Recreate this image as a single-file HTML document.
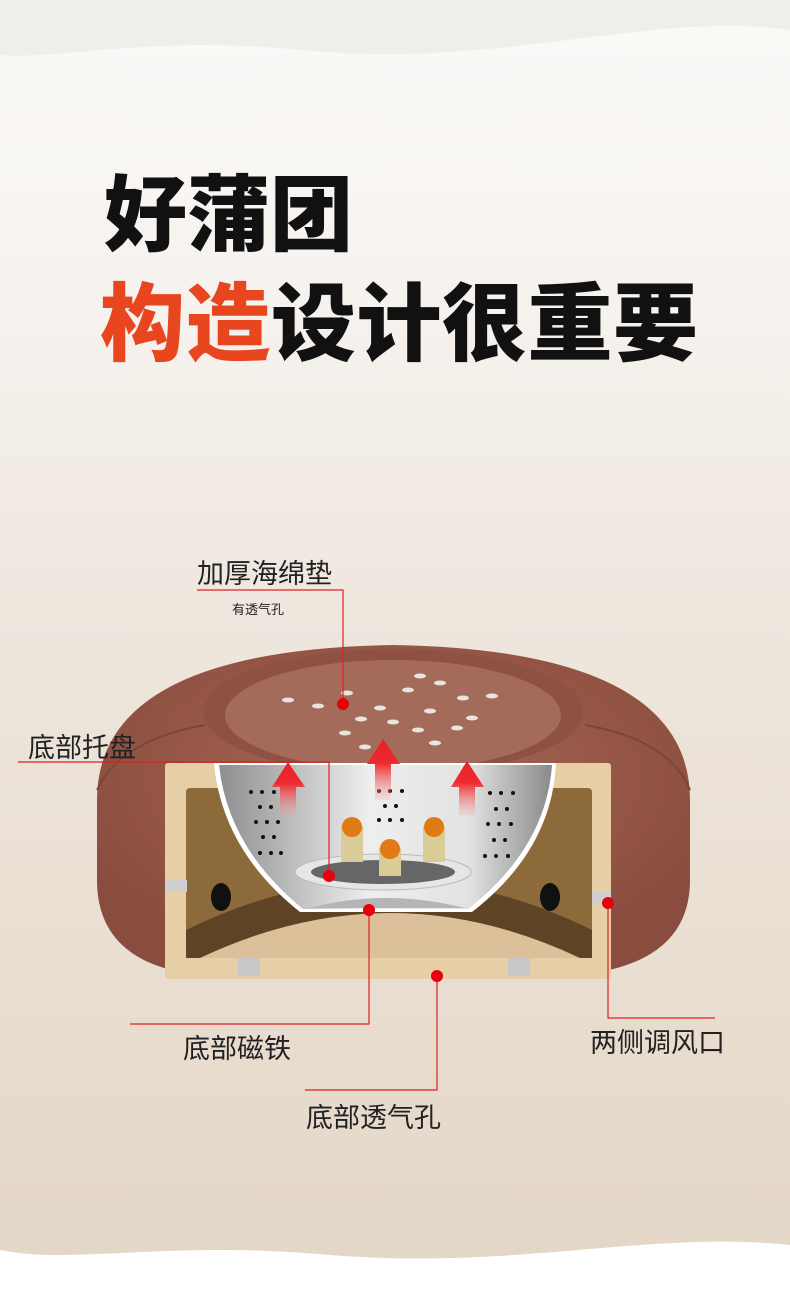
<!DOCTYPE html>
<html><head><meta charset="utf-8"><style>
html,body{margin:0;padding:0}
body{width:790px;height:1296px;overflow:hidden;position:relative;background:linear-gradient(#fbfaf8 0px,#f6f2ee 300px,#ede4da 700px,#e3d6c6 1296px);font-family:"Liberation Sans","Noto Sans CJK SC",sans-serif}
.t{position:absolute;font-weight:900;color:#111;white-space:nowrap}
.l{position:absolute;color:#222;white-space:nowrap}
</style></head><body>
<svg width="790" height="1296" style="position:absolute;left:0;top:0">
<defs>
<linearGradient id="bowl" x1="0" x2="1"><stop offset="0" stop-color="#8e8e8e"/><stop offset=".45" stop-color="#eeeeee"/><stop offset=".75" stop-color="#e2e2e2"/><stop offset="1" stop-color="#8a8a8a"/></linearGradient>
<linearGradient id="arr" x1="0" y1="0" x2="0" y2="1"><stop offset="0" stop-color="#e8202a"/><stop offset=".4" stop-color="#ee2a30"/><stop offset="1" stop-color="#f5a0a0" stop-opacity="0.2"/></linearGradient>
<radialGradient id="fab" cx=".5" cy=".4" r=".6"><stop offset="0" stop-color="#a86856"/><stop offset="1" stop-color="#8a4c3e"/></radialGradient>
</defs>
<path d="M0 0H790V30C650 10 500 70 300 50 150 35 60 60 0 55Z" fill="#f0eeeb"/>
<path d="M0 1296H790V1245C650 1230 520 1270 330 1255 170 1240 70 1265 0 1250Z" fill="#fff"/>
<path d="M97 800 Q97 650 393 645 Q690 650 690 800 V880 Q690 955 600 972 H180 Q97 955 97 880Z" fill="url(#fab)"/>
<path d="M97 790 Q120 740 205 725" stroke="#7e4436" stroke-width="2" fill="none"/>
<path d="M690 790 Q670 740 585 725" stroke="#7e4436" stroke-width="2" fill="none"/>
<ellipse cx="393" cy="712" rx="190" ry="63" fill="#8e5244"/>
<ellipse cx="393" cy="715" rx="168" ry="55" fill="#a56b5a"/>
<path d="M560 700 q8 -20 18 -6 l-4 14z" fill="#8e5244"/>
<g fill="#e8e4e0">
<ellipse cx="288" cy="700" rx="6" ry="2.5"/><ellipse cx="318" cy="706" rx="6" ry="2.5"/><ellipse cx="347" cy="693" rx="6" ry="2.5"/><ellipse cx="361" cy="719" rx="6" ry="2.5"/><ellipse cx="380" cy="708" rx="6" ry="2.5"/><ellipse cx="408" cy="690" rx="6" ry="2.5"/><ellipse cx="430" cy="711" rx="6" ry="2.5"/><ellipse cx="440" cy="683" rx="6" ry="2.5"/><ellipse cx="463" cy="698" rx="6" ry="2.5"/><ellipse cx="472" cy="718" rx="6" ry="2.5"/><ellipse cx="492" cy="696" rx="6" ry="2.5"/><ellipse cx="418" cy="730" rx="6" ry="2.5"/><ellipse cx="365" cy="747" rx="6" ry="2.5"/><ellipse cx="435" cy="743" rx="6" ry="2.5"/><ellipse cx="393" cy="722" rx="6" ry="2.5"/><ellipse cx="457" cy="728" rx="6" ry="2.5"/><ellipse cx="345" cy="733" rx="6" ry="2.5"/><ellipse cx="420" cy="676" rx="6" ry="2.5"/>
</g>
<rect x="165" y="763" width="446" height="216" rx="3" fill="#e6cfa6"/>
<rect x="186" y="788" width="406" height="170" rx="4" fill="#8c6a3a"/>
<path d="M186 930 Q390 830 592 930 V958 H186Z" fill="#5e4424"/>
<path d="M200 958 Q390 868 580 958Z" fill="#dcc09a"/>
<rect x="165" y="880" width="22" height="12" fill="#cfcfcf"/><rect x="592" y="892" width="19" height="12" fill="#cfcfcf"/>
<ellipse cx="221" cy="897" rx="10" ry="14" fill="#111"/><ellipse cx="550" cy="897" rx="10" ry="14" fill="#111"/>
<rect x="238" y="958" width="22" height="18" fill="#c8c8c8"/><rect x="508" y="958" width="22" height="18" fill="#c8c8c8"/>
<path d="M214 763 H556 Q552 850 472 912 H300 Q222 850 214 763Z" fill="#fff"/>
<path d="M219 765 H552 Q546 848 468 909 H303 Q228 848 219 765Z" fill="url(#bowl)"/>
<path d="M310 908 Q385 888 465 908Z" fill="#b5b5b5"/>
<ellipse cx="383" cy="872" rx="88" ry="18" fill="#e6e6e6" stroke="#bbb"/>
<ellipse cx="383" cy="872" rx="72" ry="12" fill="#666"/>
<g fill="#d9cc96"><rect x="341" y="826" width="22" height="36"/><rect x="423" y="826" width="22" height="36"/><rect x="379" y="848" width="22" height="28"/></g>
<g fill="#e07a14"><circle cx="352" cy="827" r="10"/><circle cx="434" cy="827" r="10"/><circle cx="390" cy="849" r="10"/></g>
<g fill="#111">
<circle cx="251" cy="792" r="2"/><circle cx="262" cy="792" r="2"/><circle cx="274" cy="792" r="2"/><circle cx="260" cy="807" r="2"/><circle cx="271" cy="807" r="2"/><circle cx="256" cy="822" r="2"/><circle cx="267" cy="822" r="2"/><circle cx="278" cy="822" r="2"/><circle cx="263" cy="837" r="2"/><circle cx="274" cy="837" r="2"/><circle cx="260" cy="853" r="2"/><circle cx="271" cy="853" r="2"/><circle cx="281" cy="853" r="2"/>
<circle cx="379" cy="791" r="2"/><circle cx="390" cy="791" r="2"/><circle cx="402" cy="791" r="2"/><circle cx="385" cy="806" r="2"/><circle cx="396" cy="806" r="2"/><circle cx="379" cy="820" r="2"/><circle cx="390" cy="820" r="2"/><circle cx="402" cy="820" r="2"/>
<circle cx="490" cy="793" r="2"/><circle cx="501" cy="793" r="2"/><circle cx="513" cy="793" r="2"/><circle cx="496" cy="809" r="2"/><circle cx="507" cy="809" r="2"/><circle cx="488" cy="824" r="2"/><circle cx="499" cy="824" r="2"/><circle cx="511" cy="824" r="2"/><circle cx="494" cy="840" r="2"/><circle cx="505" cy="840" r="2"/><circle cx="485" cy="856" r="2"/><circle cx="496" cy="856" r="2"/><circle cx="508" cy="856" r="2"/>
</g>
<g fill="url(#arr)">
<path d="M288 762 L305 787 H296 V815 H280 V787 H272Z"/>
<path d="M383 739 L400 764 H391 V800 H375 V764 H367Z"/>
<path d="M467 761 L484 787 H475 V815 H459 V787 H451Z"/>
</g>
<g stroke="#e02020" stroke-width="1.2" fill="none">
<path d="M197 590 H343 V704"/>
<path d="M18 762 H329 V876"/>
<path d="M130 1024 H369 V910"/>
<path d="M608 903 V1018 H715"/>
<path d="M437 976 V1090 H305"/>
</g>
<g fill="#e8000a"><circle cx="343" cy="704" r="6"/><circle cx="329" cy="876" r="6"/><circle cx="369" cy="910" r="6"/><circle cx="608" cy="903" r="6"/><circle cx="437" cy="976" r="6"/></g>
</svg>
<div class="t" style="left:104px;top:168px;font-size:83px;line-height:96px">好蒲团</div>
<div class="t" style="left:100px;top:278px;font-size:85px;line-height:96px;letter-spacing:0.5px"><span style="color:#e8461e">构造</span>设计很重要</div>
<div class="l" style="left:197px;top:552px;font-size:27px">加厚海绵垫</div>
<div class="l" style="left:232px;top:599px;font-size:13px">有透气孔</div>
<div class="l" style="left:28px;top:726px;font-size:27px">底部托盘</div>
<div class="l" style="left:183px;top:1027px;font-size:27px">底部磁铁</div>
<div class="l" style="left:590px;top:1021px;font-size:27px">两侧调风口</div>
<div class="l" style="left:306px;top:1096px;font-size:27px">底部透气孔</div>
</body></html>
